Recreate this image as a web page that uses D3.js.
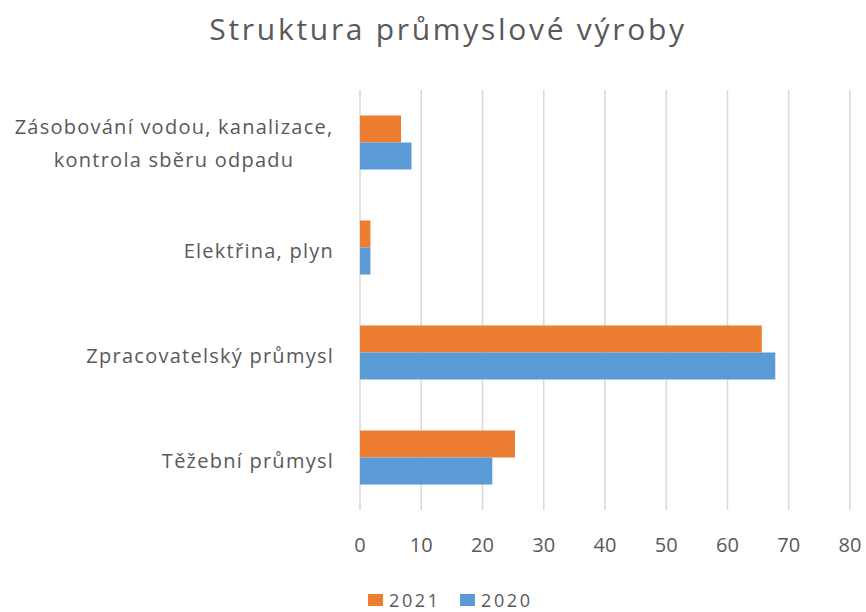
<!DOCTYPE html>
<html>
<head>
<meta charset="utf-8">
<script src="https://cdn.jsdelivr.net/npm/d3@7"></script>
<style>
  body { margin: 0; background: #fff; }
  text { font-family: "Open Sans", sans-serif; fill: #595959; }
</style>
</head>
<body>
<div id="chart"></div>
<script>
// data
var categories = [
  ["Zásobování vodou, kanalizace,", "kontrola sběru odpadu"],
  ["Elektřina, plyn"],
  ["Zpracovatelský průmysl"],
  ["Těžební průmysl"]
];
var seriesNames = ["2021", "2020"];
var values2021 = [6.7, 1.7, 65.6, 25.3];
var values2020 = [8.4, 1.7, 67.8, 21.6];
var xTicks = [0, 10, 20, 30, 40, 50, 60, 70, 80];
var colors = ["#ED7D31", "#5B9BD5"];

var width = 866, height = 612;
var margin = {top: 90, right: 16, bottom: 102, left: 360};
var plotW = width - margin.left - margin.right;
var plotH = height - margin.top - margin.bottom;

var svg = d3.select("#chart").append("svg")
  .attr("width", width)
  .attr("height", height);

// title
svg.append("text")
  .attr("x", 448)
  .attr("y", 40)
  .attr("text-anchor", "middle")
  .style("font-size", "30px")
  .style("letter-spacing", "2.7px")
  .text("Struktura průmyslové výroby");

var g = svg.append("g")
  .attr("transform", "translate(" + margin.left + "," + margin.top + ")");

var x = d3.scaleLinear().domain([0, 80]).range([0, plotW]);
var y = d3.scaleBand().domain(d3.range(categories.length)).range([0, plotH]);
var barH = 27;

// gridlines
g.selectAll(".grid")
  .data(xTicks)
  .enter().append("line")
  .attr("x1", function(d) { return x(d); })
  .attr("x2", function(d) { return x(d); })
  .attr("y1", 0)
  .attr("y2", plotH)
  .style("stroke", "#D9D9D9")
  .style("stroke-width", 1.5);

// x tick labels
g.selectAll(".tick")
  .data(xTicks)
  .enter().append("text")
  .attr("x", function(d) { return x(d); })
  .attr("y", plotH + 42)
  .attr("text-anchor", "middle")
  .style("font-size", "20px")
  .text(function(d) { return d; });

// bars
var series = [values2021, values2020];
series.forEach(function(vals, s) {
  g.selectAll(".bar" + s)
    .data(vals)
    .enter().append("rect")
    .attr("x", x(0))
    .attr("y", function(d, i) { return y(i) + y.bandwidth() / 2 - barH + s * barH; })
    .attr("width", function(d) { return x(d) - x(0); })
    .attr("height", barH)
    .style("fill", colors[s]);
});

// category labels
categories.forEach(function(lines, i) {
  var cy = margin.top + y(i) + y.bandwidth() / 2;
  if (lines.length === 1) {
    svg.append("text")
      .attr("x", 334)
      .attr("y", cy + 10)
      .attr("text-anchor", "end")
      .style("font-size", "20px")
      .style("letter-spacing", "1.25px")
      .text(lines[0]);
  } else {
    var t = svg.append("text")
      .attr("text-anchor", "middle")
      .style("font-size", "20px")
      .style("letter-spacing", "1.25px");
    lines.forEach(function(l, j) {
      t.append("tspan")
        .attr("x", 174)
        .attr("y", cy - 9 + j * 33)
        .text(l);
    });
  }
});

// legend
var legend = svg.append("g").attr("transform", "translate(368,594)");
var legX = [0, 92];
seriesNames.forEach(function(n, i) {
  legend.append("rect")
    .attr("x", legX[i])
    .attr("y", 0)
    .attr("width", 15)
    .attr("height", 12)
    .style("fill", colors[i]);
  legend.append("text")
    .attr("x", legX[i] + 21)
    .attr("y", 13)
    .style("font-size", "18px")
    .style("letter-spacing", "2.6px")
    .text(n);
});
</script>
</body>
</html>
